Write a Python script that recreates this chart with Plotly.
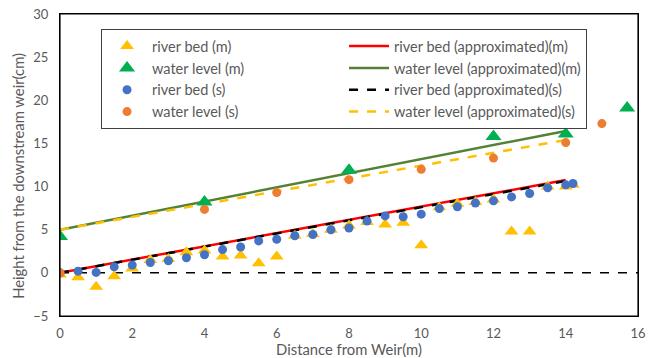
import plotly.graph_objects as go

# River bed (m) - measured
rb_m_x = [0, 0.5, 1, 1.5, 2, 2.5, 3, 3.5, 4, 4.5, 5, 5.5, 6, 6.5, 7, 7.5, 8, 8.5, 9, 9.5,
          10, 10.5, 11, 11.5, 12, 12.5, 13, 13.5, 14, 14.2]
rb_m_y = [-0.2, -0.5, -1.6, -0.4, 0.5, 1.5, 1.6, 2.4, 2.6, 1.9, 2.0, 1.1, 1.9, 4.3, 4.5, 5.0,
          5.5, 5.9, 5.6, 5.8, 3.2, 7.6, 8.0, 8.2, 8.5, 4.8, 4.8, 10.0, 10.0, 10.2]
# Water level (m)
wl_m_x = [0, 4, 8, 12, 14, 15.7]
wl_m_y = [4.2, 8.2, 11.9, 15.8, 16.1, 19.1]
# River bed (s)
rb_s_x = [0, 0.5, 1, 1.5, 2, 2.5, 3, 3.5, 4, 4.5, 5, 5.5, 6, 6.5, 7, 7.5, 8, 8.5, 9, 9.5,
          10, 10.5, 11, 11.5, 12, 12.5, 13, 13.5, 14, 14.2]
rb_s_y = [0.0, 0.2, 0.05, 0.7, 0.9, 1.2, 1.4, 1.75, 2.1, 2.7, 3.0, 3.7, 3.9, 4.3, 4.45, 5.0,
          5.2, 6.0, 6.6, 6.5, 6.8, 7.45, 7.65, 8.1, 8.35, 8.8, 9.2, 9.85, 10.2, 10.35]
# Water level (s)
wl_s_x = [0, 4, 6, 8, 10, 12, 14, 15]
wl_s_y = [0.0, 7.35, 9.3, 10.8, 12.0, 13.3, 15.1, 17.3]
# Approximated lines (endpoints)
rb_ap_m_x = [0, 14]
rb_ap_m_y = [0.0, 10.75]
wl_ap_m_x = [0, 14]
wl_ap_m_y = [5.0, 16.45]
rb_ap_s_x = [0, 14]
rb_ap_s_y = [0.0, 10.65]
wl_ap_s_x = [0, 14]
wl_ap_s_y = [5.0, 15.4]
zero_x = [0, 16]
zero_y = [0, 0]

names = ["river bed (m)", "river bed (approximated)(m)",
         "water level (m)", "water level (approximated)(m)",
         "river bed (s)", "river bed (approximated)(s)",
         "water level (s)", "water level (approximated)(s)"]
x_title = "Distance from Weir(m)"
y_title = "Height from the downstream weir(cm)"

FONT = "Lato, Liberation Sans, sans-serif"
GREY = "#595959"

fig = go.Figure()
fig.add_trace(go.Scatter(x=zero_x, y=zero_y, mode="lines", showlegend=False,
                         line=dict(color="black", width=1.5, dash="dash")))
fig.add_trace(go.Scatter(x=rb_ap_m_x, y=rb_ap_m_y, mode="lines", name=names[1], legendrank=2,
                         line=dict(color="#FF0000", width=2.5)))
fig.add_trace(go.Scatter(x=wl_ap_m_x, y=wl_ap_m_y, mode="lines", name=names[3], legendrank=4,
                         line=dict(color="#548235", width=2.5)))
fig.add_trace(go.Scatter(x=rb_ap_s_x, y=rb_ap_s_y, mode="lines", name=names[5], legendrank=6,
                         line=dict(color="black", width=2.5, dash="dash")))
fig.add_trace(go.Scatter(x=wl_ap_s_x, y=wl_ap_s_y, mode="lines", name=names[7], legendrank=8,
                         line=dict(color="#FFC000", width=2.5, dash="dash")))
fig.add_trace(go.Scatter(x=rb_m_x, y=rb_m_y, mode="markers", name=names[0], legendrank=1,
                         marker=dict(symbol="triangle-up", size=12, color="#FFC000")))
fig.add_trace(go.Scatter(x=wl_m_x, y=wl_m_y, mode="markers", name=names[2], legendrank=3,
                         marker=dict(symbol="triangle-up", size=14, color="#00B050")))
fig.add_trace(go.Scatter(x=rb_s_x, y=rb_s_y, mode="markers", name=names[4], legendrank=5,
                         marker=dict(symbol="circle", size=9, color="#4472C4")))
fig.add_trace(go.Scatter(x=wl_s_x, y=wl_s_y, mode="markers", name=names[6], legendrank=7,
                         marker=dict(symbol="circle", size=9, color="#ED7D31")))

tick_font = dict(family=FONT, size=13, color=GREY)
title_font = dict(family=FONT, size=14.8, color=GREY)
# the page places the figure 8px in from the top-left corner; size/margins compensate
fig.update_layout(
    width=650, height=350,
    margin=dict(l=52, r=20, t=6, b=42),
    plot_bgcolor="white", paper_bgcolor="white",
    font=dict(family=FONT, size=13, color=GREY),
    legend=dict(orientation="h", x=0.071, y=0.95, xanchor="left", yanchor="top",
                entrywidth=187, entrywidthmode="pixels", itemwidth=40,
                bordercolor="#404040", borderwidth=1, bgcolor="white",
                font=dict(family=FONT, size=14.5, color=GREY)),
    xaxis=dict(range=[0, 16], dtick=2, showgrid=False, zeroline=False,
               showline=True, mirror=True, linecolor="black", linewidth=1.2,
               ticks="outside", ticklen=5, tickcolor="rgba(0,0,0,0)", tickfont=tick_font,
               automargin=False, ticklabeloverflow="allow",
               title=dict(text=x_title, standoff=6, font=title_font)),
    yaxis=dict(range=[-5, 30], dtick=5, showgrid=False, zeroline=False,
               showline=True, mirror=True, linecolor="black", linewidth=1.2,
               ticks="outside", ticklen=8, tickcolor="rgba(0,0,0,0)", tickfont=tick_font,
               automargin=False, ticklabeloverflow="allow"),
    annotations=[dict(text=y_title, textangle=-90, xref="paper", yref="paper",
                      x=0, y=0.464, xshift=-42, xanchor="center", yanchor="middle",
                      showarrow=False, font=title_font)],
    shapes=[dict(type="rect", xref="paper", yref="paper", x0=0, x1=1, y0=0, y1=1,
                 line=dict(color="black", width=1.2), layer="above")],
)

fig.write_html("out.html")
